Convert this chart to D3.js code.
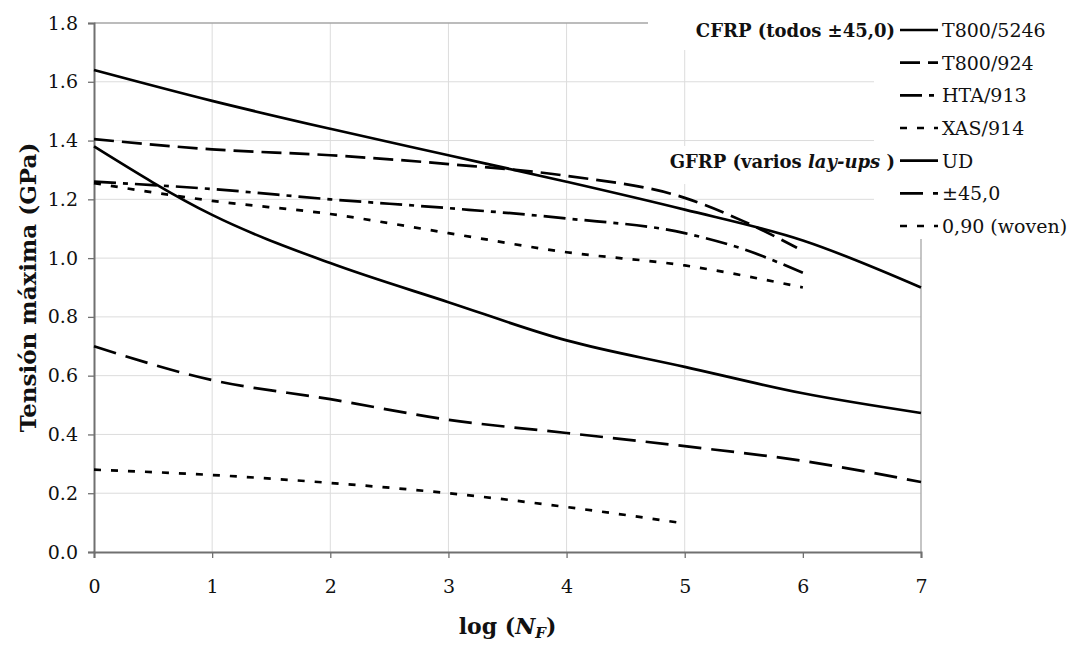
<!DOCTYPE html>
<html>
<head>
<meta charset="utf-8">
<script src="https://cdn.jsdelivr.net/npm/d3@7"></script>
<style>
  body { margin: 0; background: #fff; }
</style>
</head>
<body>
<div id="container"></div>
<script>
// values (log N_F vs max stress in GPa)
const logN = [0, 1, 2, 3, 4, 5, 6, 7]
const t800_5246 = [1.64, 1.535, 1.44, 1.35, 1.26, 1.165, 1.06, 0.90]

const t800_924_x = [0, 1, 2, 3, 4, 5, 5.5, 5.95]
const t800_924 = [1.405, 1.37, 1.35, 1.32, 1.28, 1.205, 1.125, 1.035]

const hta913_x = [0, 1, 2, 3, 4, 5, 5.5, 6]
const hta913 = [1.26, 1.235, 1.20, 1.17, 1.135, 1.085, 1.03, 0.95]

const xas914_x = [0, 1, 2, 3, 4, 5, 6]
const xas914 = [1.255, 1.195, 1.15, 1.085, 1.02, 0.975, 0.90]

const gfrpUD = [1.38, 1.147, 0.983, 0.85, 0.72, 0.63, 0.54, 0.473]
const gfrp45 = [0.70, 0.585, 0.52, 0.45, 0.405, 0.36, 0.31, 0.238]

const gfrp090_x = [0, 1, 2, 3, 4, 4.95]
const gfrp090 = [0.28, 0.262, 0.235, 0.20, 0.153, 0.10]

const xTicks = [0, 1, 2, 3, 4, 5, 6, 7]
const yTicks = [0, 0.2, 0.4, 0.6, 0.8, 1.0, 1.2, 1.4, 1.6, 1.8]

const labels = ["T800/5246", "T800/924", "HTA/913", "XAS/914", "UD", "\u00b145,0", "0,90 (woven)"]

const width = 1069
const height = 646
const margin = { left: 94, top: 23, right: 148, bottom: 94 }
const font = '"DejaVu Serif", "Liberation Serif", serif'

const dashes = {
    solid: null,
    long: "20,8",
    dashdot: "22,7,5,7",
    dot: "7,10",
    long2: "23,10",
}

const series = [
    { xs: logN, ys: t800_5246, dash: dashes.solid },
    { xs: t800_924_x, ys: t800_924, dash: dashes.long },
    { xs: hta913_x, ys: hta913, dash: dashes.dashdot },
    { xs: xas914_x, ys: xas914, dash: dashes.dot },
    { xs: logN, ys: gfrpUD, dash: dashes.solid },
    { xs: logN, ys: gfrp45, dash: dashes.long2 },
    { xs: gfrp090_x, ys: gfrp090, dash: dashes.dot },
]

const svg = d3.select('#container')
    .append('svg').attr('width', width).attr('height', height)
    .attr('font-family', font)

const x = d3.scaleLinear().domain([0, 7]).range([margin.left, width - margin.right])
const y = d3.scaleLinear().domain([0, 1.8]).range([height - margin.bottom, margin.top])

// grid
svg.append('g')
    .selectAll('line')
    .data(yTicks.slice(1, -1))
    .join('line')
    .attr('x1', x(0)).attr('x2', x(7))
    .attr('y1', d => y(d)).attr('y2', d => y(d))
    .attr('stroke', '#dcdcdc').attr('stroke-width', 1)

svg.append('g')
    .selectAll('line')
    .data([1, 2, 3, 4, 5])
    .join('line')
    .attr('x1', d => x(d)).attr('x2', d => x(d))
    .attr('y1', y(0)).attr('y2', y(1.8))
    .attr('stroke', '#dcdcdc').attr('stroke-width', 1)

// plot border top and right
svg.append('line')
    .attr('x1', x(0)).attr('x2', x(7)).attr('y1', y(1.8)).attr('y2', y(1.8))
    .attr('stroke', '#a6a6a6').attr('stroke-width', 1.3)
svg.append('line')
    .attr('x1', x(7)).attr('x2', x(7)).attr('y1', y(1.8)).attr('y2', y(0))
    .attr('stroke', '#a6a6a6').attr('stroke-width', 1.3)

// axes
const yAxis = svg.append('g')
    .attr('transform', 'translate(' + x(0) + ',0)')
    .call(d3.axisLeft(y).tickValues(yTicks).tickFormat(d3.format('.1f')).tickSize(6).tickPadding(10))
const xAxis = svg.append('g')
    .attr('transform', 'translate(0,' + y(0) + ')')
    .call(d3.axisBottom(x).tickValues(xTicks).tickFormat(d3.format('d')).tickSize(6).tickPadding(22))

;[yAxis, xAxis].forEach(a => {
    a.attr('font-family', font)
    a.select('.domain').attr('stroke', '#707070').attr('stroke-width', 2)
    a.selectAll('.tick line').attr('stroke', '#707070').attr('stroke-width', 1.3)
    a.selectAll('.tick text').attr('font-size', 19).attr('fill', '#111')
})

// curves
const line = d3.line()
    .x(d => x(d[0]))
    .y(d => y(d[1]))
    .curve(d3.curveMonotoneX)

svg.append('g')
    .selectAll('path')
    .data(series)
    .join('path')
    .attr('d', s => line(s.xs.map((v, i) => [v, s.ys[i]])))
    .attr('fill', 'none')
    .attr('stroke', '#000')
    .attr('stroke-width', 2.7)
    .attr('stroke-dasharray', s => s.dash)

// legend (white background blocks cover the grid as in the figure)
const legend = svg.append('g')
legend.append('rect').attr('x', 648).attr('y', 0).attr('width', width - 648).attr('height', 50).attr('fill', '#fff')
legend.append('rect').attr('x', 874).attr('y', 0).attr('width', width - 874).attr('height', 239).attr('fill', '#fff')
legend.append('rect').attr('x', 652).attr('y', 146).attr('width', 230).attr('height', 38).attr('fill', '#fff')

const rowY = d3.scaleLinear().domain([0, 6]).range([30, 226])

legend.selectAll('line.sample')
    .data(series)
    .join('line')
    .attr('class', 'sample')
    .attr('x1', 900).attr('x2', 938)
    .attr('y1', (d, i) => rowY(i)).attr('y2', (d, i) => rowY(i))
    .attr('stroke', '#000').attr('stroke-width', 2.7)
    .attr('stroke-dasharray', d => d.dash)

legend.selectAll('text.lab')
    .data(labels)
    .join('text')
    .attr('class', 'lab')
    .attr('x', 942)
    .attr('y', (d, i) => rowY(i) + 7)
    .attr('font-size', 19)
    .attr('fill', '#111')
    .text(d => d)

legend.append('text')
    .attr('x', 895).attr('y', rowY(0) + 7)
    .attr('text-anchor', 'end')
    .attr('font-size', 18).attr('font-weight', 'bold').attr('fill', '#111')
    .text('CFRP (todos \u00b145,0)')

const gt = legend.append('text')
    .attr('x', 895).attr('y', rowY(4) + 7)
    .attr('text-anchor', 'end')
    .attr('font-size', 18).attr('font-weight', 'bold').attr('fill', '#111')
gt.append('tspan').text('GFRP (varios ')
gt.append('tspan').attr('font-style', 'italic').text('lay-ups')
gt.append('tspan').text(' )')

// axis titles
svg.append('text')
    .attr('transform', 'translate(36,' + ((y(0) + y(1.8)) / 2) + ') rotate(-90)')
    .attr('text-anchor', 'middle')
    .attr('font-size', 23).attr('font-weight', 'bold').attr('fill', '#111')
    .text('Tensión máxima (GPa)')

const xt = svg.append('text')
    .attr('x', (x(0) + x(7)) / 2).attr('y', 634)
    .attr('text-anchor', 'middle')
    .attr('font-size', 22).attr('font-weight', 'bold').attr('fill', '#111')
xt.append('tspan').text('log (')
xt.append('tspan').attr('font-style', 'italic').text('N')
xt.append('tspan').attr('font-style', 'italic').attr('font-size', 15).attr('dy', 4).text('F')
xt.append('tspan').attr('dy', -4).text(')')
</script>
</body>
</html>
